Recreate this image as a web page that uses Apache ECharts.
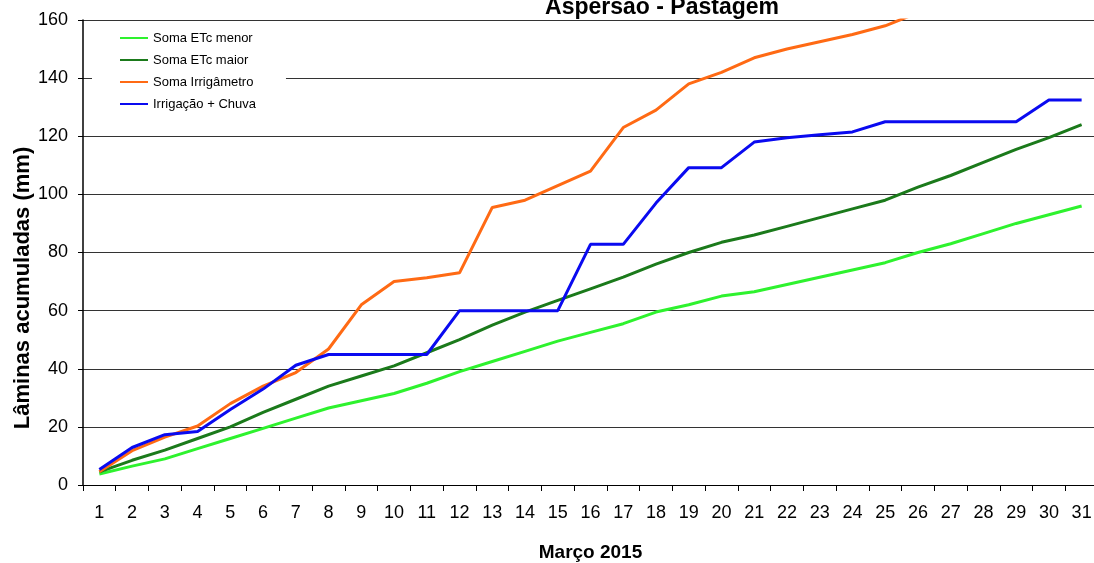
<!DOCTYPE html>
<html>
<head>
<meta charset="utf-8">
<title>Aspersão - Pastagem</title>
<script src="https://cdn.jsdelivr.net/npm/echarts@6/dist/echarts.min.js"></script>
<style>
  html, body { margin: 0; padding: 0; background: #fff; }
  #chart { width: 1094px; height: 563px; }
</style>
</head>
<body>
<div id="chart"></div>
<script>
// Dias de março 2015
const days = ['1','2','3','4','5','6','7','8','9','10','11','12','13','14','15','16',
  '17','18','19','20','21','22','23','24','25','26','27','28','29','30','31'];

// Lâminas acumuladas (mm)
const etcMenor = [3.8, 6.5, 9, 12.5, 16, 19.5, 23, 26.5, 29, 31.5, 35, 39, 42.5, 46, 49.5, 52.5,
  55.5, 59.5, 62, 65, 66.5, 69, 71.5, 74, 76.5, 80, 83, 86.5, 90, 93, 96];
const etcMaior = [4.5, 8.5, 12, 16, 20, 25, 29.5, 34, 37.5, 41, 45.5, 50, 55, 59.5, 63.5, 67.5,
  71.5, 76, 80, 83.5, 86, 89, 92, 95, 98, 102.5, 106.5, 111, 115.5, 119.5, 124];
const irrigametro = [4.6, 11.8, 16.5, 20.3, 28, 34, 38.7, 46.8, 62, 70, 71.3, 73, 95.5, 98, 103, 108,
  123, 129, 138, 142, 147, 150, 152.5, 155, 158, 162.5, null, null, null, null, null];
const irrigChuva = [5.3, 12.9, 17.3, 18.4, 26, 33, 41.2, 44.9, 44.9, 44.9, 44.9, 60, 60, 60, 60, 82.8,
  82.8, 97, 109.2, 109.2, 118, 119.5, 120.5, 121.5, 125, 125, 125, 125, 125, 132.5, 132.5];

const yTicks = { min: 0, max: 160, interval: 20 };

const chart = echarts.init(document.getElementById('chart'), null, { renderer: 'canvas' });

const mkLine = (name, data, color) => ({
  name: name,
  type: 'line',
  data: data,
  symbol: 'none',
  smooth: false,
  lineStyle: { color: color, width: 3 },
  itemStyle: { color: color },
  clip: true
});

const option = {
  backgroundColor: '#fff',
  animation: false,
  textStyle: { fontFamily: 'Liberation Sans, Arial, sans-serif', color: '#000' },
  title: {
    text: 'Aspersão - Pastagem',
    left: 657,
    textAlign: 'center',
    top: -9,
    textStyle: { fontSize: 23, fontWeight: 'bold', color: '#000' }
  },
  legend: {
    orient: 'vertical',
    left: 92,
    top: 24,
    padding: [7, 30, 7, 28],
    backgroundColor: '#fff',
    icon: 'rect',
    itemWidth: 28,
    itemHeight: 2,
    itemGap: 8,
    textStyle: { fontSize: 13, color: '#000', lineHeight: 14 },
    data: ['Soma ETc menor', 'Soma ETc maior', 'Soma Irrigâmetro', 'Irrigação + Chuva']
  },
  grid: {
    left: 83,
    top: 20,
    width: 1015,
    height: 465,
    containLabel: false,
    outerBoundsMode: 'none'
  },
  xAxis: {
    type: 'category',
    data: days,
    boundaryGap: true,
    name: 'Março 2015',
    nameLocation: 'middle',
    nameGap: 58,
    nameTextStyle: { fontSize: 19, fontWeight: 'bold', color: '#000' },
    axisLine: { lineStyle: { color: '#000', width: 1 } },
    axisTick: { show: true, alignWithLabel: false, length: 6, lineStyle: { color: '#000' } },
    axisLabel: { color: '#000', fontSize: 18, margin: 19, interval: 0 },
    splitLine: { show: false }
  },
  yAxis: {
    type: 'value',
    min: yTicks.min,
    max: yTicks.max,
    interval: yTicks.interval,
    axisLine: { show: true, lineStyle: { color: '#000', width: 1.5 } },
    axisTick: { show: true, inside: false, length: 5, lineStyle: { color: '#000' } },
    axisLabel: { color: '#000', fontSize: 18, margin: 15 },
    splitLine: { show: true, lineStyle: { color: '#333', width: 1 } }
  },
  graphic: [{
    type: 'text',
    x: 23,
    y: 288,
    rotation: Math.PI / 2,
    style: {
      text: 'Lâminas acumuladas (mm)',
      font: 'bold 22px "Liberation Sans", Arial, sans-serif',
      fill: '#000',
      textAlign: 'center',
      textVerticalAlign: 'middle'
    }
  }],
  series: [
    mkLine('Soma ETc menor', etcMenor, '#2ef22e'),
    mkLine('Soma ETc maior', etcMaior, '#1b7a1b'),
    mkLine('Soma Irrigâmetro', irrigametro, '#ff6a14'),
    mkLine('Irrigação + Chuva', irrigChuva, '#0a0af0')
  ]
};

chart.setOption(option);
</script>
</body>
</html>
